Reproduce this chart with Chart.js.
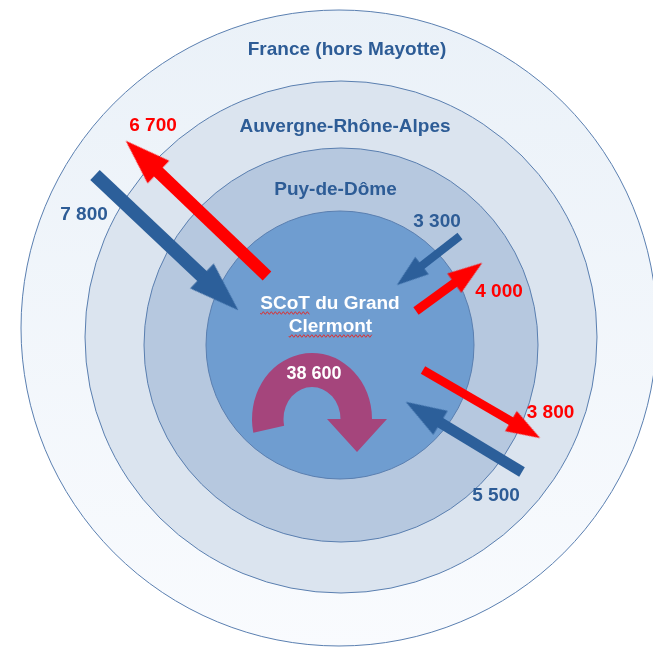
<!DOCTYPE html>
<html>
<head>
<meta charset="utf-8">
<script src="https://cdn.jsdelivr.net/npm/chart.js@4.4.1/dist/chart.umd.min.js"></script>
<style>
  html, body { margin: 0; padding: 0; background: #fff; }
  canvas { display: block; }
</style>
</head>
<body>
<canvas id="flux" width="653" height="650"></canvas>
<script>
// territoires, du plus large au plus petit
const zones = ['France (hors Mayotte)', 'Auvergne-Rhône-Alpes', 'Puy-de-Dôme', 'SCoT du Grand Clermont'];
// flux de population entrant / sortant du SCoT
const flowValues = [7800, 6700, 3300, 4000, 3800, 5500];
const flowDirections = ['entrée', 'sortie', 'entrée', 'sortie', 'sortie', 'entrée'];
// déménagements internes au SCoT
const internalValue = 38600;

// ---- mise en page du schéma (unités des axes) ----
const zoneCircles = [
  { x: 339, y: 328, r: 318 },
  { x: 341, y: 337, r: 256 },
  { x: 341, y: 345, r: 197 },
  { x: 340, y: 345, r: 134 }
];
const zoneFills = [null, '#dbe4ef', '#b6c8df', '#6f9dd0'];
const zoneLabelPos = [[347, 55], [345, 131.5], [335.5, 195], [330, 309]];
const arrowPos = [
  { from: [95, 175], to: [238, 310], label: [84, 219.5] },
  { from: [267, 276], to: [126, 141], label: [153, 131] },
  { from: [460, 236], to: [397, 285], label: [437, 227] },
  { from: [416, 311], to: [482, 263], label: [499, 297] },
  { from: [423, 370], to: [540, 438], label: [550.5, 418] },
  { from: [522, 472], to: [406, 402], label: [496, 501] }
];
const uturn = { x: 312, y: 419, outer: [60, 66], inner: [28.5, 32], start: 168, label: [314, 379] };

const BLUE = '#2c5f9a', RED = '#ff0000', TEXT_BLUE = '#2d5c96', PURPLE = '#a5457c';
const FONT = '"Liberation Sans", Arial, sans-serif';

const fmt = v => String(v).replace(/\B(?=(\d{3})+(?!\d))/g, ' ');

// pointe de flèche (dessinée vers le haut, tournée par Chart.js)
function makeHead(hw, hl, color) {
  const c = document.createElement('canvas');
  c.width = Math.ceil(hw) + 2;
  c.height = Math.ceil(hl) + 2;
  const g = c.getContext('2d');
  const cx = c.width / 2;
  g.fillStyle = color;
  g.beginPath();
  g.moveTo(cx, 1);
  g.lineTo(cx + hw / 2, 1 + hl);
  g.lineTo(cx - hw / 2, 1 + hl);
  g.closePath();
  g.fill();
  return c;
}

const arrowDatasets = flowValues.map((v, i) => {
  const p = arrowPos[i];
  const color = flowDirections[i] === 'entrée' ? BLUE : RED;
  const w = 4 + v / 800;
  const hw = 2.2 * w + 4;
  const hl = 1.45 * hw;
  const dx = p.to[0] - p.from[0], dy = p.to[1] - p.from[1];
  const len = Math.hypot(dx, dy);
  const ux = dx / len, uy = dy / len;
  const mid = { x: p.to[0] - ux * hl / 2, y: p.to[1] - uy * hl / 2 };
  return {
    type: 'scatter',
    label: fmt(v),
    order: 0,
    showLine: true,
    data: [{ x: p.from[0], y: p.from[1] }, mid],
    borderColor: color,
    borderWidth: w,
    borderCapStyle: 'butt',
    pointStyle: ['circle', makeHead(hw, hl, color)],
    pointRadius: [0, 1],
    pointRotation: [0, Math.atan2(ux, -uy) * 180 / Math.PI],
    pointBackgroundColor: color,
    pointBorderWidth: 0
  };
});

function wavy(ctx, x0, x1, y) {
  ctx.beginPath();
  for (let x = x0; x <= x1; x += 1) {
    const yy = y + 1.3 * Math.sin((x - x0) / 4 * 2 * Math.PI);
    if (x === x0) ctx.moveTo(x, yy); else ctx.lineTo(x, yy);
  }
  ctx.strokeStyle = '#dd3030';
  ctx.lineWidth = 1;
  ctx.stroke();
}

const decor = {
  id: 'decor',
  afterDatasetsDraw(chart) {
    const { ctx, scales: { x, y } } = chart;
    const px = v => x.getPixelForValue(v), py = v => y.getPixelForValue(v);
    const sx = d => px(d) - px(0), sy = d => py(d) - py(0);
    ctx.save();

    // flèche en U : déménagements internes
    const u = uturn, a0 = u.start * Math.PI / 180;
    ctx.beginPath();
    ctx.ellipse(px(u.x), py(u.y), sx(u.outer[0]), sy(u.outer[1]), 0, a0, 2 * Math.PI);
    ctx.lineTo(px(u.x + 75), py(u.y));
    ctx.lineTo(px(u.x + 45), py(u.y + 33));
    ctx.lineTo(px(u.x + 15), py(u.y));
    ctx.lineTo(px(u.x + u.inner[0]), py(u.y));
    ctx.ellipse(px(u.x), py(u.y), sx(u.inner[0]), sy(u.inner[1]), 0, 2 * Math.PI, a0, true);
    ctx.closePath();
    ctx.fillStyle = PURPLE;
    ctx.fill();

    ctx.textAlign = 'center';
    ctx.textBaseline = 'alphabetic';
    ctx.font = 'bold 19px ' + FONT;

    // noms des territoires
    zones.forEach((name, i) => {
      const [lx, ly] = zoneLabelPos[i];
      if (i < zones.length - 1) {
        ctx.fillStyle = TEXT_BLUE;
        ctx.fillText(name, px(lx), py(ly));
      } else {
        const cut = name.lastIndexOf(' ');
        const l1 = name.slice(0, cut), l2 = name.slice(cut + 1);
        ctx.fillStyle = '#ffffff';
        ctx.fillText(l1, px(lx), py(ly));
        ctx.fillText(l2, px(lx + 0.5), py(ly + 23));
        const w1 = ctx.measureText(l1).width, wS = ctx.measureText(l1.split(' ')[0]).width;
        const w2 = ctx.measureText(l2).width;
        wavy(ctx, px(lx) - w1 / 2, px(lx) - w1 / 2 + wS, py(ly + 4));
        wavy(ctx, px(lx + 0.5) - w2 / 2, px(lx + 0.5) + w2 / 2, py(ly + 27));
      }
    });

    // valeurs des flux
    flowValues.forEach((v, i) => {
      const [lx, ly] = arrowPos[i].label;
      ctx.fillStyle = flowDirections[i] === 'entrée' ? TEXT_BLUE : RED;
      ctx.fillText(fmt(v), px(lx), py(ly));
    });

    ctx.font = 'bold 18px ' + FONT;
    ctx.fillStyle = '#ffffff';
    ctx.fillText(fmt(internalValue), px(u.label[0]), py(u.label[1]));
    ctx.restore();
  }
};

new Chart(document.getElementById('flux'), {
  type: 'scatter',
  data: {
    datasets: [
      ...arrowDatasets,
      {
        type: 'bubble',
        label: 'territoires',
        order: 10,
        data: zoneCircles.map(c => ({ x: c.x, y: c.y, r: c.r })),
        backgroundColor: c => {
          if (c.dataIndex > 0) return zoneFills[c.dataIndex];
          const area = c.chart.chartArea;
          if (!area || !isFinite(area.top) || !isFinite(area.bottom) || area.bottom <= area.top) return '#eef3f9';
          const g = c.chart.ctx.createLinearGradient(0, area.top, 0, area.bottom);
          g.addColorStop(0, '#eaf1f8');
          g.addColorStop(1, '#f9fbfe');
          return g;
        },
        borderColor: '#5a7fb0',
        borderWidth: 1,
        hoverRadius: 0,
        clip: false
      }
    ]
  },
  options: {
    responsive: false,
    animation: false,
    events: [],
    layout: { padding: 0, autoPadding: false },
    plugins: { legend: { display: false }, tooltip: { enabled: false } },
    scales: {
      x: { type: 'linear', min: 0, max: 653, display: false },
      y: { type: 'linear', min: 0, max: 650, reverse: true, display: false }
    }
  },
  plugins: [decor]
});
</script>
</body>
</html>
